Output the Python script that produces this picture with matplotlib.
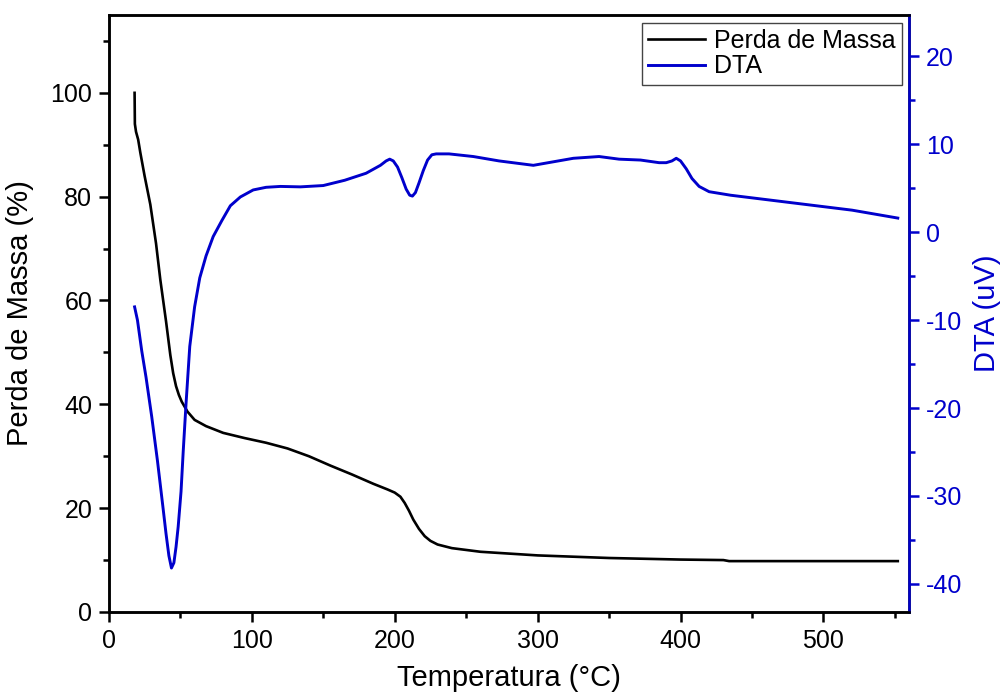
import matplotlib
matplotlib.use("Agg")
import matplotlib.pyplot as plt
from matplotlib.ticker import MultipleLocator

plt.rcParams['font.family'] = ['Liberation Sans', 'DejaVu Sans']
plt.rcParams['axes.unicode_minus'] = False

# Perda de Massa (TG) - temperatura em °C, massa em %
temp_tg = [18.0, 18.2, 19, 20.5, 22, 25, 29, 33, 36, 40, 43, 45, 47, 49, 51,
           55, 60, 68, 80, 95, 110, 125, 140, 155, 170, 185, 195, 200, 204,
           207, 210, 213, 217, 221, 225, 230, 240, 260, 300, 350, 400, 430,
           434, 480, 552]
massa = [100, 94, 92.5, 91, 88.5, 84, 78.5, 71, 64, 56, 49.5, 46, 43.5, 41.8,
         40.5, 38.6, 37, 35.8, 34.5, 33.5, 32.6, 31.5, 30, 28.2, 26.5, 24.7,
         23.6, 23.0, 22.2, 21.0, 19.5, 17.8, 16.0, 14.6, 13.7, 13.0, 12.3,
         11.6, 10.9, 10.4, 10.1, 10.0, 9.8, 9.8, 9.8]

# DTA - temperatura em °C, sinal em uV
temp_dta = [18, 20, 23, 26, 30, 34, 38, 40, 42, 43.8, 45.5, 47, 48.5, 50.5,
            52, 54, 56.6, 60, 63.6, 68, 73, 79, 85, 92, 101, 110, 120, 134,
            150, 165, 180, 190, 194, 196.5, 199, 202, 205, 208, 210.5, 212.4,
            214.5, 217, 220, 223, 226, 229, 238, 255, 273, 297, 311, 325, 343,
            357, 372, 385, 390, 394, 397, 400, 404, 408, 413, 420, 435, 460,
            490, 520, 552]
dta = [-8.5, -10, -13.5, -16.5, -21, -26, -31.5, -34.3, -36.8, -38.2, -37.6,
       -35.8, -33.5, -29.5, -25, -19.5, -13, -8.5, -5.2, -2.7, -0.5, 1.3,
       3.0, 4.0, 4.8, 5.1, 5.2, 5.15, 5.3, 5.9, 6.7, 7.6, 8.1, 8.3, 8.1, 7.4,
       6.2, 4.9, 4.2, 4.1, 4.5, 5.6, 7.0, 8.2, 8.8, 8.9, 8.9, 8.6, 8.1, 7.6,
       8.0, 8.4, 8.6, 8.3, 8.2, 7.9, 7.9, 8.1, 8.4, 8.1, 7.2, 6.1, 5.2, 4.6,
       4.2, 3.7, 3.1, 2.5, 1.6]

blue = '#0000CC'
fs = 18

fig = plt.figure(figsize=(10.08, 6.96), dpi=100)
ax = fig.add_axes([0.108, 0.1207, 0.794, 0.8578])
ax2 = ax.twinx()

l1, = ax.plot(temp_tg, massa, color='black', lw=1.9, label='Perda de Massa')
l2, = ax2.plot(temp_dta, dta, color=blue, lw=2.1, label='DTA')

ax.set_xlim(0, 560)
ax.set_ylim(0, 115)
ax2.set_ylim(-43.2, 24.7)

ax.xaxis.set_major_locator(MultipleLocator(100))
ax.xaxis.set_minor_locator(MultipleLocator(50))
ax.yaxis.set_major_locator(MultipleLocator(20))
ax.yaxis.set_minor_locator(MultipleLocator(10))
ax2.yaxis.set_major_locator(MultipleLocator(10))
ax2.yaxis.set_minor_locator(MultipleLocator(5))

for a in (ax, ax2):
    for s in a.spines.values():
        s.set_linewidth(1.8)
ax2.spines['right'].set_color(blue)

ax.tick_params(which='both', direction='out', width=1.8, labelsize=fs,
               top=False, right=False, pad=5)
ax.tick_params(which='major', length=7)
ax.tick_params(which='minor', length=4.5)
ax2.tick_params(which='both', direction='out', width=1.8, labelsize=fs,
                color=blue, labelcolor=blue, pad=5)
ax2.tick_params(which='major', length=7)
ax2.tick_params(which='minor', length=4.5)

ax.set_xlabel('Temperatura (°C)', fontsize=21, labelpad=8)
ax.set_ylabel('Perda de Massa (%)', fontsize=21, labelpad=12)
ax2.set_ylabel('DTA (uV)', fontsize=21, color=blue, labelpad=8)

leg = ax2.legend(handles=[l1, l2], loc='upper right',
                 bbox_to_anchor=(0.991, 0.9866), borderaxespad=0,
                 fontsize=fs, frameon=True, fancybox=False, framealpha=1,
                 handlelength=2.3, handletextpad=0.35, borderpad=0.25,
                 labelspacing=0.05)
leg.get_frame().set_edgecolor('#444444')
leg.get_frame().set_linewidth(1.0)

fig.savefig('out.png', dpi=100)
